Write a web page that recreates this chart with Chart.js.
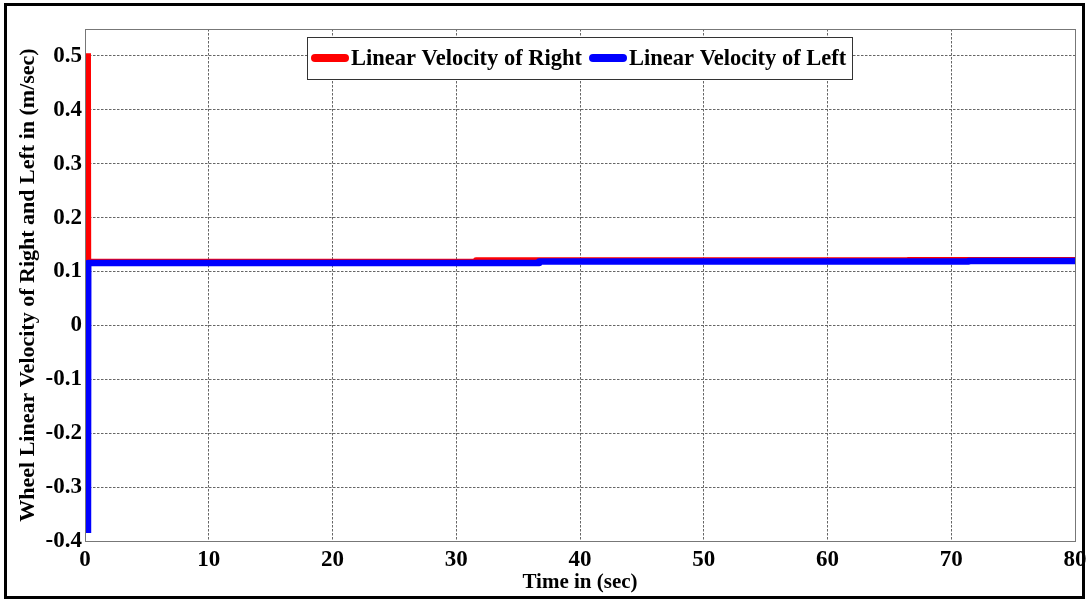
<!DOCTYPE html>
<html>

<head>
	<title>Wheel Linear Velocity</title>
	<meta charset="UTF-8">
	<script src="https://cdn.jsdelivr.net/npm/chart.js@4.4.1/dist/chart.umd.min.js"></script>
	<style>
		body { margin: 0; background: #fff; }
		#wrap { position: relative; width: 1089px; height: 601px; }
		#frame { position: absolute; left: 4px; top: 3px; width: 1081px; height: 596px; box-sizing: border-box; border: 3px solid #000; pointer-events: none; }
	</style>
</head>

<body>
	<div id="wrap">
		<canvas id="velChart" width="1089" height="601"></canvas>
		<div id="frame"></div>
	</div>

	<script>
		// time (sec) / velocity (m/sec) for each wheel
		var rightTime = [0.24, 0.26, 31.6, 31.6, 66.5, 66.5, 80];
		var rightVel = [0.505, 0.118, 0.118, 0.121, 0.121, 0.1215, 0.1215];
		var leftTime = [0.24, 0.26, 36.7, 36.7, 71.4, 71.4, 80];
		var leftVel = [-0.385, 0.116, 0.116, 0.1185, 0.1185, 0.1195, 0.1195];

		var xTicks = [0, 10, 20, 30, 40, 50, 60, 70, 80];
		var yTicks = [-0.4, -0.3, -0.2, -0.1, 0, 0.1, 0.2, 0.3, 0.4, 0.5];

		var serif = "'Liberation Serif', 'Times New Roman', serif";

		function toPoints(xs, ys) {
			var pts = [];
			for (var i = 0; i < xs.length; i++) pts.push({ x: xs[i], y: ys[i] });
			return pts;
		}

		// axes box and a boxed legend sitting inside the top of the plot
		var boxPlugin = {
			id: 'boxes',
			afterDraw: function (chart) {
				var ctx = chart.ctx, a = chart.chartArea;
				ctx.save();
				ctx.strokeStyle = '#777';
				ctx.lineWidth = 1;
				ctx.strokeRect(Math.round(a.left) + 0.5, Math.round(a.top) + 0.5, Math.round(a.right - a.left), Math.round(a.bottom - a.top));

				var sets = chart.data.datasets;
				ctx.font = 'bold 22.5px ' + serif;
				var sample = 38, pad = 4, gap = 2, between = 7;
				var widths = sets.map(function (d) { return ctx.measureText(d.label).width; });
				var total = pad;
				widths.forEach(function (w, i) { total += sample + gap + w + (i < widths.length - 1 ? between : 6); });
				var h = 42;
				var left = Math.round((a.left + a.right) / 2 - total / 2);
				var top = Math.round(a.top + 8);
				ctx.fillStyle = '#fff';
				ctx.fillRect(left, top, total, h);
				ctx.strokeStyle = '#333';
				ctx.strokeRect(left + 0.5, top + 0.5, Math.round(total), h);

				var x = left + pad, cy = top + h / 2;
				ctx.textBaseline = 'middle';
				ctx.lineCap = 'round';
				sets.forEach(function (d, i) {
					ctx.strokeStyle = d.borderColor;
					ctx.lineWidth = 8;
					ctx.beginPath();
					ctx.moveTo(x + 4, cy);
					ctx.lineTo(x + sample - 4, cy);
					ctx.stroke();
					x += sample + gap;
					ctx.fillStyle = '#000';
					ctx.fillText(d.label, x, cy + 1);
					x += widths[i] + between;
				});
				ctx.restore();
			}
		};

		new Chart(document.getElementById("velChart"), {
			type: 'line',
			data: {
				datasets: [
					{ label: 'Linear Velocity of Right', data: toPoints(rightTime, rightVel), order: 1, borderColor: '#ff0000', backgroundColor: '#ff0000', borderWidth: 6, pointRadius: 0, tension: 0, borderJoinStyle: 'round', fill: false },
					{ label: 'Linear Velocity of Left', data: toPoints(leftTime, leftVel), order: 0, borderColor: '#0000ff', backgroundColor: '#0000ff', borderWidth: 6.5, pointRadius: 0, tension: 0, borderJoinStyle: 'round', fill: false }
				]
			},
			options: {
				responsive: false,
				animation: false,
				layout: { padding: { left: 12, right: 14, top: 29, bottom: 4 } },
				plugins: {
					tooltip: { enabled: false },
					legend: { display: false }
				},
				scales: {
					x: {
						type: 'linear',
						min: 0,
						max: 80,
						afterBuildTicks: function (scale) { scale.ticks = xTicks.map(function (v) { return { value: v }; }); },
						afterFit: function (scale) { scale.height = 56; scale.paddingLeft = 0; scale.paddingRight = 0; },
						grid: { color: '#666', lineWidth: 1, drawTicks: false },
						border: { display: false, dash: [2.5, 1.5] },
						ticks: { color: '#000', padding: 5, maxRotation: 0, font: { family: serif, size: 23, weight: 'bold' } },
						title: { display: true, text: 'Time in (sec)', color: '#000', padding: { top: 0, bottom: 2 }, font: { family: serif, size: 21, weight: 'bold' } }
					},
					y: {
						min: -0.4,
						max: 0.55,
						afterBuildTicks: function (scale) { scale.ticks = yTicks.map(function (v) { return { value: v }; }); },
						afterFit: function (scale) { scale.width = 73; scale.paddingTop = 0; scale.paddingBottom = 0; },
						grid: { color: '#666', lineWidth: 1, drawTicks: false },
						border: { display: false, dash: [2.5, 1.5] },
						ticks: { color: '#000', padding: 3, font: { family: serif, size: 23, weight: 'bold' }, callback: function (v) { return String(Math.round(v * 10) / 10); } },
						title: { display: true, text: 'Wheel Linear Velocity of Right and Left in (m/sec)', color: '#000', padding: { top: 3, bottom: 0 }, font: { family: serif, size: 22, weight: 'bold' } }
					}
				}
			},
			plugins: [boxPlugin]
		});
	</script>

</body>

</html>
